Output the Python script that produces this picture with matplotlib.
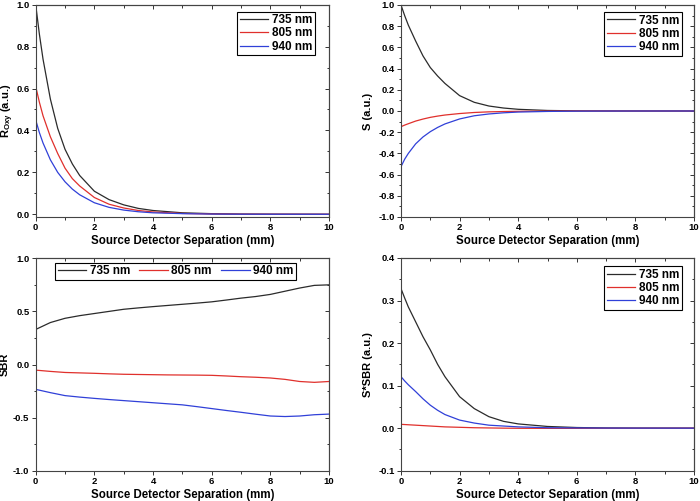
import numpy as np
import matplotlib
matplotlib.use("Agg")
import matplotlib.pyplot as plt
from matplotlib.ticker import MultipleLocator

plt.rcParams['font.family'] = ['Liberation Sans', 'DejaVu Sans']
plt.rcParams['font.weight'] = 'bold'
plt.rcParams['mathtext.fontset'] = 'custom'
plt.rcParams['mathtext.rm'] = 'Liberation Sans:bold'
plt.rcParams['mathtext.it'] = 'Liberation Sans:bold'
plt.rcParams['mathtext.bf'] = 'Liberation Sans:bold'

## data
labels = ['735 nm', '805 nm', '940 nm']
colors = ['#2b2b2b', '#e0302c', '#3040d8']

# decaying curves (panels a, b, d) share this x grid
x_dec = [0, 0.125, 0.25, 0.5, 0.75, 1, 1.25, 1.5, 2, 2.5, 3, 3.5, 4, 5, 6, 7, 8, 10]

roxy_735 = [1.0, 0.86, 0.74, 0.55, 0.41, 0.31, 0.24, 0.185, 0.11, 0.07, 0.045, 0.028, 0.018, 0.007, 0.003, 0.001, 0.0005, 0.0]
roxy_805 = [0.61, 0.535, 0.47, 0.37, 0.29, 0.22, 0.17, 0.135, 0.08, 0.048, 0.03, 0.018, 0.011, 0.004, 0.0015, 0.0005, 0.0002, 0.0]
roxy_940 = [0.45, 0.39, 0.34, 0.26, 0.2, 0.155, 0.12, 0.093, 0.055, 0.033, 0.02, 0.012, 0.007, 0.003, 0.001, 0.0003, 0.0001, 0.0]

s_735 = [1.0, 0.9, 0.81, 0.66, 0.52, 0.41, 0.33, 0.26, 0.145, 0.082, 0.047, 0.028, 0.016, 0.005, 0.0015, 0.0005, 0.0002, 0.0]
s_805 = [-0.148, -0.133, -0.12, -0.095, -0.076, -0.06, -0.048, -0.038, -0.024, -0.014, -0.008, -0.005, -0.003, -0.001, 0.0, 0.0, 0.0, 0.0]
s_940 = [-0.525, -0.455, -0.4, -0.31, -0.245, -0.195, -0.155, -0.122, -0.075, -0.045, -0.028, -0.017, -0.01, -0.004, -0.0015, -0.0005, -0.0002, 0.0]

ssbr_735 = [0.328, 0.306, 0.285, 0.25, 0.215, 0.184, 0.15, 0.121, 0.074, 0.046, 0.027, 0.016, 0.01, 0.004, 0.0015, 0.0005, 0.0002, 0.0]
ssbr_805 = [0.009, 0.0085, 0.008, 0.007, 0.006, 0.005, 0.004, 0.003, 0.002, 0.001, 0.0005, 0.0, -0.0003, -0.0005, -0.0005, -0.0003, -0.0002, 0.0]
ssbr_940 = [0.121, 0.111, 0.102, 0.086, 0.069, 0.054, 0.042, 0.032, 0.019, 0.012, 0.007, 0.005, 0.003, 0.001, 0.0005, 0.0002, 0.0001, 0.0]

# SBR panel
x_sbr = [0, 0.5, 1, 1.5, 2, 2.5, 3, 3.5, 4, 4.5, 5, 5.5, 6, 6.5, 7, 7.5, 8, 8.5, 9, 9.5, 10]
sbr_735 = [0.33, 0.395, 0.435, 0.46, 0.48, 0.5, 0.52, 0.533, 0.545, 0.556, 0.567, 0.578, 0.59, 0.607, 0.625, 0.64, 0.66, 0.69, 0.72, 0.745, 0.75]
sbr_805 = [-0.053, -0.065, -0.075, -0.079, -0.083, -0.088, -0.092, -0.094, -0.096, -0.098, -0.099, -0.1, -0.102, -0.108, -0.115, -0.12, -0.127, -0.14, -0.16, -0.168, -0.16]
sbr_940 = [-0.234, -0.265, -0.293, -0.307, -0.319, -0.33, -0.34, -0.35, -0.36, -0.37, -0.38, -0.397, -0.415, -0.433, -0.45, -0.468, -0.485, -0.49, -0.485, -0.473, -0.467]

fig = plt.figure(figsize=(7.0, 5.01), dpi=100)

W, H = 700.0, 501.0
def box(l, r, t, b):
    return [l / W, 1 - b / H, (r - l) / W, (b - t) / H]

ax1 = fig.add_axes(box(35.7, 329, 4.7, 217))
ax2 = fig.add_axes(box(401, 694, 5, 217))
ax3 = fig.add_axes(box(35.7, 329, 258.3, 470.7))
ax4 = fig.add_axes(box(401, 694, 258, 470.7))

def style(ax, ylim, major, minor, fmt):
    ax.set_xlim(0, 10)
    ax.set_ylim(*ylim)
    ax.xaxis.set_major_locator(MultipleLocator(2))
    ax.xaxis.set_minor_locator(MultipleLocator(1))
    ax.yaxis.set_major_locator(MultipleLocator(major))
    ax.yaxis.set_minor_locator(MultipleLocator(minor))
    ax.yaxis.set_major_formatter(matplotlib.ticker.FormatStrFormatter(fmt))
    ax.tick_params(which='both', direction='out', labelsize=6.8, width=0.7, colors='#333333', labelcolor='black', pad=1.5)
    ax.tick_params(which='major', length=3)
    ax.tick_params(which='minor', length=1.8)
    for sp in ax.spines.values():
        sp.set_linewidth(0.8)
        sp.set_color('#444444')
    # ticks pointing in on top and right
    top = ax.secondary_xaxis('top')
    top.xaxis.set_major_locator(MultipleLocator(2))
    top.xaxis.set_minor_locator(MultipleLocator(1))
    top.tick_params(which='both', direction='in', labeltop=False, width=0.7, colors='#333333')
    top.tick_params(which='major', length=3)
    top.tick_params(which='minor', length=1.8)
    top.spines['top'].set_linewidth(0.8)
    top.spines['top'].set_color('#444444')
    right = ax.secondary_yaxis('right')
    right.yaxis.set_major_locator(MultipleLocator(major))
    right.yaxis.set_minor_locator(MultipleLocator(minor))
    right.tick_params(which='both', direction='in', labelright=False, width=0.7, colors='#333333')
    right.tick_params(which='major', length=3)
    right.tick_params(which='minor', length=1.8)
    right.spines['right'].set_linewidth(0.8)
    right.spines['right'].set_color('#444444')
    ax.set_xlabel('Source Detector Separation (mm)', fontsize=8.3, fontweight='bold', labelpad=2)

leg_kw = dict(fontsize=8.5, frameon=True, fancybox=False, framealpha=1, edgecolor='black',
              handlelength=2.4, handletextpad=0.3, labelspacing=0.1, borderpad=0.22, borderaxespad=0)

# top left
for ys, c, lab in zip([roxy_735, roxy_805, roxy_940], colors, labels):
    ax1.plot(x_dec, ys, color=c, lw=0.9, label=lab)
style(ax1, (-0.013, 1.0), 0.2, 0.1, '%.1f')
ax1.set_ylabel(r'R$_{\rm Oxy}$ (a.u.)', fontsize=8, fontweight='bold')
ax1.yaxis.set_label_coords(-0.068, 0.5)
ax1.legend(loc='upper right', bbox_to_anchor=(0.952, 0.967), **leg_kw).get_frame().set_linewidth(0.8)

# top right
for ys, c, lab in zip([s_735, s_805, s_940], colors, labels):
    ax2.plot(x_dec, ys, color=c, lw=0.9, label=lab)
style(ax2, (-1.0, 1.0), 0.2, 0.1, '%.1f')
ax2.set_ylabel('S (a.u.)', fontsize=8, fontweight='bold')
ax2.yaxis.set_label_coords(-0.096, 0.5)
ax2.legend(loc='upper right', bbox_to_anchor=(0.959, 0.967), **leg_kw).get_frame().set_linewidth(0.8)

# bottom left
for ys, c, lab in zip([sbr_735, sbr_805, sbr_940], colors, labels):
    ax3.plot(x_sbr, ys, color=c, lw=0.9, label=lab)
style(ax3, (-1.0, 1.0), 0.5, 0.25, '%.1f')
ax3.set_ylabel('SBR', fontsize=8, fontweight='bold')
ax3.yaxis.set_label_coords(-0.088, 0.5)
ax3.legend(loc='upper left', bbox_to_anchor=(0.066, 0.98), ncol=3, columnspacing=0.8, **leg_kw).get_frame().set_linewidth(0.8)

# bottom right
for ys, c, lab in zip([ssbr_735, ssbr_805, ssbr_940], colors, labels):
    ax4.plot(x_dec, ys, color=c, lw=0.9, label=lab)
style(ax4, (-0.1, 0.4), 0.1, 0.05, '%.1f')
ax4.set_ylabel('S*SBR (a.u.)', fontsize=8, fontweight='bold')
ax4.yaxis.set_label_coords(-0.096, 0.5)
ax4.legend(loc='upper right', bbox_to_anchor=(0.959, 0.962), **leg_kw).get_frame().set_linewidth(0.8)

plt.savefig('out.png', dpi=100)
